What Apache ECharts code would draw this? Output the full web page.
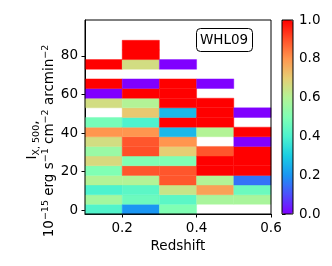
<!DOCTYPE html>
<html>
<head>
<meta charset="utf-8">
<script src="https://cdn.jsdelivr.net/npm/echarts@6/dist/echarts.min.js"></script>
<style>html,body{margin:0;padding:0;background:#fff}#c{width:332px;height:266px}</style>
</head>
<body>
<div id="c"></div>
<script>
// Redshift bin edges
var zEdges = [0.1, 0.2, 0.3, 0.4, 0.5, 0.6];
// Intensity bins: lower edge of first bin and bin width
var yStart = -1.9;
var yWidth = 5;
// Colour values per redshift bin, bottom row to top row (null = empty)
var col1 = [0.41, 0.57, 0.40, 0.60, 0.50, 0.67, 0.55, 0.66, 0.80, 0.48, null, 0.66, 0.0, 1.0, null, 1.0, null, null];
var col2 = [0.20, 0.46, 0.43, 0.60, 0.89, 0.50, 0.90, 0.89, 0.80, 0.40, 0.71, 0.60, 1.0, 0.0, null, 0.66, 1.0, 1.0];
var col3 = [0.50, 0.43, 0.64, 0.89, 0.89, 0.50, 0.70, 0.80, 0.26, 1.0, 0.26, 1.0, 1.0, 1.0, null, 0.0, null, null];
var col4 = [null, 0.58, 0.78, 0.60, 1.0, 1.0, 0.89, null, 0.60, 1.0, 1.0, 1.0, null, 0.0, null, null, null, null];
var col5 = [null, 0.58, 0.46, 0.15, 1.0, 1.0, 1.0, 0.0, 1.0, null, 0.0, null, null, null, null, null, null, null];
var yTicks = [0, 20, 40, 60, 80];
var xTicks = [0.2, 0.4, 0.6];
var cbTicks = [0, 0.2, 0.4, 0.6, 0.8, 1.0];
var label = 'WHL09';

var cols = [col1, col2, col3, col4, col5];
var data = [];
cols.forEach(function (col, i) {
  col.forEach(function (v, k) {
    if (v === null) return;
    data.push([zEdges[i], zEdges[i + 1], yStart + k * yWidth, yStart + (k + 1) * yWidth, v]);
  });
});

var rainbow = ['#8000ff', '#4d4ffc', '#1a96f3', '#1acee3', '#4df3ce', '#80ffb4', '#b3f396', '#e6ce74', '#ff964f', '#ff4f28', '#ff0000'];
var FONT = 'DejaVu Sans';
var chart = echarts.init(document.getElementById('c'), null, {renderer: 'canvas'});
chart.setOption({
  animation: false,
  textStyle: {fontFamily: FONT, color: '#000'},
  grid: [
    {left: 85, top: 20, width: 186, height: 194, show: true, borderColor: '#000', borderWidth: 1, z: 10},
    {left: 282, top: 20, width: 11, height: 194, show: true, borderColor: '#000', borderWidth: 1, z: 10}
  ],
  xAxis: [
    {type: 'value', gridIndex: 0, min: 0.1, max: 0.6,
     splitLine: {show: false},
     axisLine: {show: true, onZero: false, lineStyle: {color: '#000', width: 1}},
     axisTick: {show: true, length: 3.5, customValues: xTicks, lineStyle: {color: '#000'}},
     axisLabel: {customValues: xTicks, margin: 7, fontSize: 13.5, fontFamily: FONT, color: '#000',
                 formatter: function (v) { return v.toFixed(1); }},
     name: 'Redshift', nameLocation: 'middle', nameGap: 22,
     nameTextStyle: {fontSize: 13.5, fontFamily: FONT, color: '#000'}},
    {type: 'value', gridIndex: 1, min: 0, max: 1, show: false}
  ],
  yAxis: [
    {type: 'value', gridIndex: 0, min: yStart, max: 98.6,
     splitLine: {show: false},
     axisLine: {show: true, onZero: false, lineStyle: {color: '#000', width: 1}},
     axisTick: {show: true, length: 3.5, customValues: yTicks, lineStyle: {color: '#000'}},
     axisLabel: {customValues: yTicks, margin: 7, fontSize: 13.5, fontFamily: FONT, color: '#000'}},
    {type: 'value', gridIndex: 1, min: 0, max: 1, position: 'right',
     splitLine: {show: false},
     axisLine: {show: false},
     axisTick: {show: true, length: 3.5, customValues: cbTicks, lineStyle: {color: '#000'}},
     axisLabel: {customValues: cbTicks, margin: 6, fontSize: 13.5, fontFamily: FONT, color: '#000',
                 formatter: function (v) { return v.toFixed(1); }}}
  ],
  visualMap: {
    type: 'continuous', min: 0, max: 1, dimension: 4, seriesIndex: 0,
    left: 282, top: 20, itemWidth: 11, itemHeight: 194, padding: 0,
    calculable: false, text: null, showLabel: false, realtime: false,
    inRange: {color: rainbow}
  },
  series: [{
    type: 'custom', xAxisIndex: 0, yAxisIndex: 0,
    encode: {x: [0, 1], y: [2, 3]},
    data: data,
    renderItem: function (params, api) {
      var p0 = api.coord([api.value(0), api.value(3)]);
      var p1 = api.coord([api.value(1), api.value(2)]);
      var c = api.visual('color');
      return {
        type: 'rect',
        shape: {x: p0[0], y: p0[1], width: p1[0] - p0[0], height: p1[1] - p0[1]},
        style: {fill: c, stroke: c, lineWidth: 0.4}
      };
    }
  }],
  graphic: [
    {type: 'rect', left: 196, top: 28, z: 20,
     shape: {width: 56, height: 23, r: 4},
     style: {fill: '#fff', stroke: '#000', lineWidth: 1}},
    {type: 'text', x: 224, y: 40, z: 21,
     style: {text: label, font: '13.5px "DejaVu Sans"', fill: '#000', align: 'center', verticalAlign: 'middle'}},
    {type: 'text', x: 41, y: 140, rotation: Math.PI / 2, z: 21,
     style: {
       text: '{n|I}{sub|X, 500},',
       align: 'center', verticalAlign: 'bottom', fill: '#000',
       font: '13.5px "DejaVu Sans"',
       rich: {
         n: {fontSize: 13.5, fontFamily: FONT, lineHeight: 16, verticalAlign: 'top'},
         sub: {fontSize: 9.5, fontFamily: FONT, lineHeight: 10, verticalAlign: 'bottom', padding: [0, 0, -1, 0]}
       }
     }},
    {type: 'text', x: 56, y: 141, rotation: Math.PI / 2, z: 21,
     style: {
       text: '{n|10}{sup|−15}{n| erg s}{sup|−1}{n| cm}{sup|−2}{n| arcmin}{sup|−2}',
       align: 'center', verticalAlign: 'bottom', fill: '#000',
       font: '13.5px "DejaVu Sans"',
       rich: {
         n: {fontSize: 13.5, fontFamily: FONT, lineHeight: 15, verticalAlign: 'bottom'},
         sup: {fontSize: 9.5, fontFamily: FONT, lineHeight: 10, verticalAlign: 'top', padding: [0, 0, 6, 0]}
       }
     }}
  ]
});
</script>
</body>
</html>
